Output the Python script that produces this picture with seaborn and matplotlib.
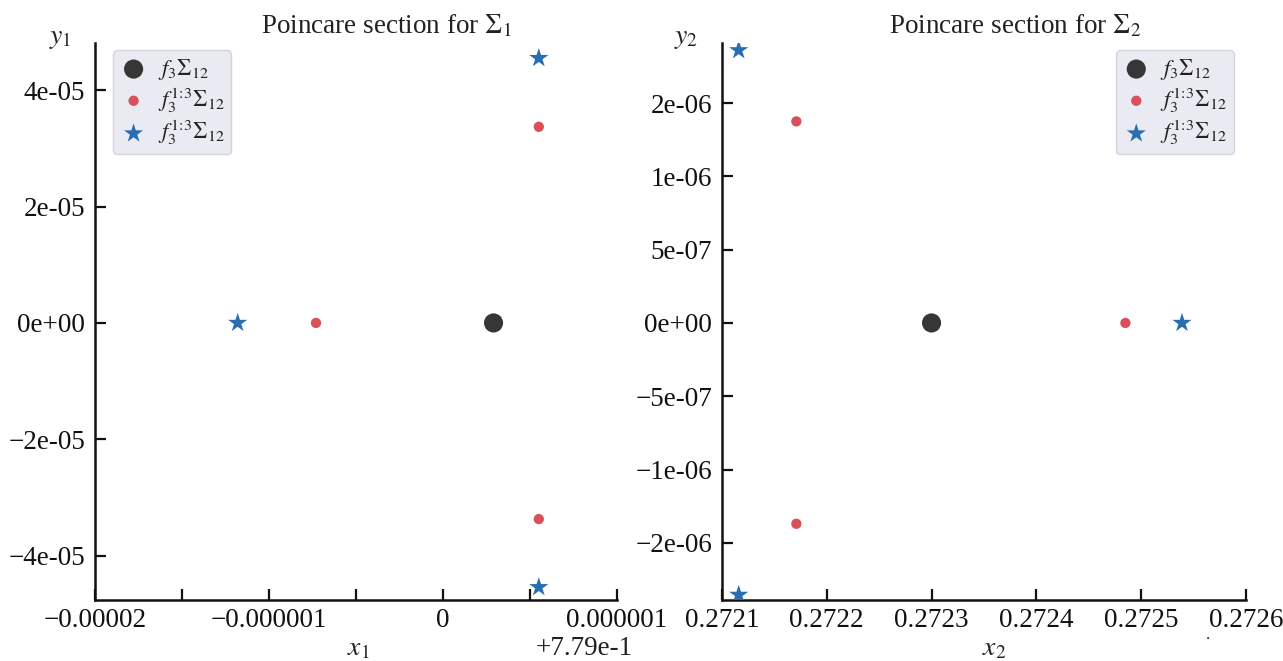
import numpy as np
import pandas as pd
import matplotlib
matplotlib.use("Agg")
import matplotlib.pyplot as plt
from matplotlib.ticker import FixedLocator, FixedFormatter, FuncFormatter
import seaborn as sns

# ---- data: Poincare section points ----
# section Sigma_1
s1_fixed_x = [0.77900029]
s1_fixed_y = [0.0]
s1_red_x = [0.77899927, 0.77900055, 0.77900055]
s1_red_y = [0.0, 3.37e-05, -3.37e-05]
s1_star_x = [0.77899882, 0.77900055, 0.77900055]
s1_star_y = [0.0, 4.55e-05, -4.54e-05]

# section Sigma_2
s2_fixed_x = [0.27230]
s2_fixed_y = [0.0]
s2_red_x = [0.272171, 0.272485, 0.272171]
s2_red_y = [1.375e-06, 0.0, -1.37e-06]
s2_star_x = [0.272116, 0.272539, 0.272116]
s2_star_y = [1.86e-06, 0.0, -1.855e-06]

# tick values / labels
x1_offset = 0.779
x1_ticks = [-2e-06, -1.5e-06, -1e-06, -5e-07, 0.0, 5e-07, 1e-06]
x1_ticklabels = ["\u22120.00002", "", "\u22120.000001", "", "0", "", "0.000001"]
y1_ticks = [-4e-05, -2e-05, 0.0, 2e-05, 4e-05]
x2_ticks = [0.2721, 0.2722, 0.2723, 0.2724, 0.2725, 0.2726]
y2_ticks = [-1.5e-06, -1e-06, -5e-07, 0.0, 5e-07, 1e-06, 1.5e-06]

lab_fixed = r"$f_3\Sigma_{12}$"
lab_orbit = r"$f_3^{1\!:\!3}\Sigma_{12}$"

FS = 19.5

sns.set_theme(style="ticks")
plt.rcParams.update({
    "font.family": ["Liberation Serif", "DejaVu Serif"],
    "mathtext.fontset": "stix",
    "axes.edgecolor": "#111111",
    "axes.linewidth": 1.8,
    "xtick.direction": "in",
    "ytick.direction": "in",
    "xtick.major.size": 8,
    "ytick.major.size": 8,
    "xtick.major.width": 1.6,
    "ytick.major.width": 1.6,
    "xtick.major.pad": 6,
    "ytick.major.pad": 7,
    "xtick.labelsize": FS,
    "ytick.labelsize": FS,
    "xtick.color": "#111111",
    "ytick.color": "#111111",
    "text.color": "#222222",
})

C_FIX = "#363636"
C_RED = "#d9505a"
C_STAR = "#2a6db0"


def sci_fmt(v, pos):
    s = f"{v:.0e}"
    if s.startswith("-"):
        s = "\u2212" + s[1:]
    return s


fig = plt.figure(figsize=(12.83, 6.61), dpi=100)
ax1 = fig.add_axes([0.074, 0.0923, 0.407, 0.8427])
ax2 = fig.add_axes([0.5627, 0.0923, 0.4084, 0.8427])


def draw(ax, fx, fy, rx, ry, sx, sy, loc, anchor):
    sns.scatterplot(x=fx, y=fy, ax=ax, s=190, color=C_FIX, edgecolor="none",
                    label=lab_fixed, zorder=3)
    sns.scatterplot(x=rx, y=ry, ax=ax, s=55, color=C_RED, edgecolor="none",
                    label=lab_orbit, zorder=3)
    sns.scatterplot(x=sx, y=sy, ax=ax, s=210, marker="*", color=C_STAR,
                    edgecolor="none", label=lab_orbit, zorder=3)
    leg = ax.legend(loc=loc, bbox_to_anchor=anchor, fontsize=16.5,
                    frameon=True, facecolor="#eaeaf2", edgecolor="#d4d4dc",
                    framealpha=1.0, borderpad=0.3, handletextpad=0.45,
                    labelspacing=0.15, borderaxespad=0.0, handlelength=1.2)
    leg.get_frame().set_linewidth(1.0)
    sns.despine(ax=ax)


draw(ax1, s1_fixed_x, s1_fixed_y, s1_red_x, s1_red_y, s1_star_x, s1_star_y,
     "upper left", (0.0345, 0.987))
draw(ax2, s2_fixed_x, s2_fixed_y, s2_red_x, s2_red_y, s2_star_x, s2_star_y,
     "upper right", (0.977, 0.987))

# left panel axes
ax1.set_xlim(x1_offset + x1_ticks[0], x1_offset + x1_ticks[-1])
ax1.set_ylim(-4.76e-05, 4.81e-05)
ax1.xaxis.set_major_locator(FixedLocator([x1_offset + t for t in x1_ticks]))
ax1.xaxis.set_major_formatter(FixedFormatter(x1_ticklabels))
ax1.yaxis.set_major_locator(FixedLocator(y1_ticks))
ax1.yaxis.set_major_formatter(FuncFormatter(sci_fmt))
ax1.set_title(r"Poincare section for $\Sigma_1$", fontsize=FS, x=0.557,
              y=1.0, pad=7)
ax1.text(-0.067, 1.008, r"$y_1$", transform=ax1.transAxes, ha="center",
         va="center", fontsize=20)
ax1.text(0.505, -0.087, r"$x_1$", transform=ax1.transAxes, ha="center",
         va="center", fontsize=20)
ax1.text(1.03, -0.087, "+7.79e-1", transform=ax1.transAxes, ha="right",
         va="center", fontsize=FS)

# right panel axes
ax2.set_xlim(x2_ticks[0], x2_ticks[-1])
ax2.set_ylim(-1.89e-06, 1.91e-06)
ax2.xaxis.set_major_locator(FixedLocator(x2_ticks))
ax2.xaxis.set_major_formatter(FuncFormatter(lambda v, p: f"{v:.4f}"))
ax2.yaxis.set_major_locator(FixedLocator(y2_ticks))
ax2.yaxis.set_major_formatter(FuncFormatter(sci_fmt))
ax2.set_title(r"Poincare section for $\Sigma_2$", fontsize=FS, x=0.559,
              y=1.0, pad=7)
ax2.text(-0.069, 1.008, r"$y_2$", transform=ax2.transAxes, ha="center",
         va="center", fontsize=20)
ax2.text(0.52, -0.087, r"$x_2$", transform=ax2.transAxes, ha="center",
         va="center", fontsize=20)
ax2.text(0.927, -0.062, ".", transform=ax2.transAxes, ha="center",
         va="center", fontsize=12)

for ax in (ax1, ax2):
    ax.set_xlabel("")
    ax.set_ylabel("")

fig.savefig("out.png", dpi=100)
